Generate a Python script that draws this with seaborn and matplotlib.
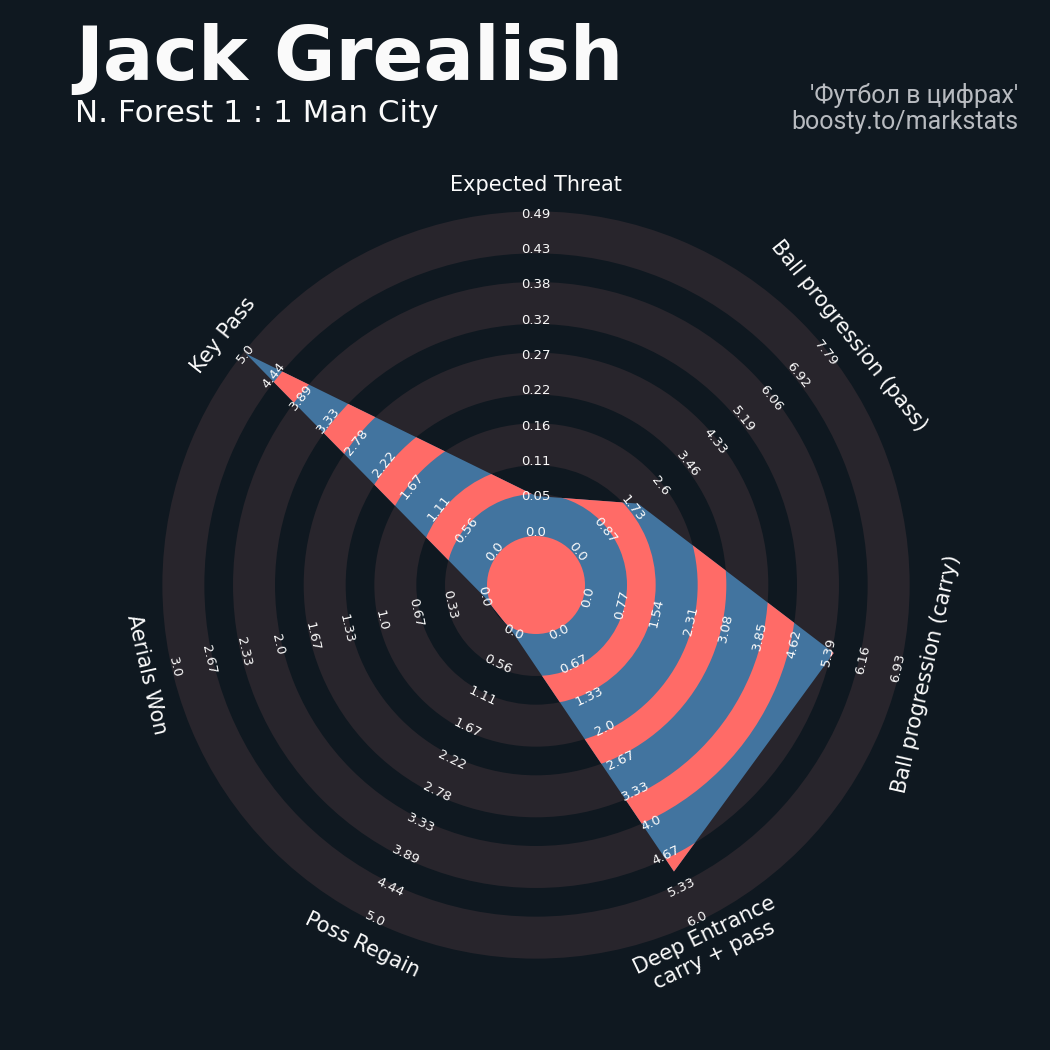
import numpy as np
import matplotlib
matplotlib.use("Agg")
import matplotlib.pyplot as plt
import seaborn as sns
from matplotlib.patches import Polygon, Wedge, Circle
from matplotlib.collections import PatchCollection

# ---- data -------------------------------------------------------------
params = [
    "Expected Threat",
    "Ball progression (pass)",
    "Ball progression (carry)",
    "Deep Entrance\ncarry + pass",
    "Poss Regain",
    "Aerials Won",
    "Key Pass",
]
low = [0, 0, 0, 0, 0, 0, 0]
high = [0.486, 7.79, 6.93, 6.0, 5.0, 3.0, 5.0]
values = [0.055, 1.9, 5.5, 5.0, 0.0, 0.0, 5.0]

title = "Jack Grealish"
subtitle = "N. Forest 1 : 1 Man City"
credit = ["'Футбол в цифрах'", "boosty.to/markstats"]

# ---- style ------------------------------------------------------------
BG = "#0f1820"
RING = "#28252c"
RADAR = "#42749f"
INNER = "#ff6b67"
TEXT = "#fafafa"
CREDIT = "#b8bbc0"

sns.set_theme(style="dark", rc={"figure.facecolor": BG, "axes.facecolor": BG,
                                "text.color": TEXT})
plt.rcParams["font.family"] = ["DejaVu Sans"]

# ---- radar geometry (axis units = pixels around the centre) -------------
N_STEPS = 9
R0 = 53.0          # radius of the minimum value
STEP = 35.33       # radius per label step
RMAX = R0 + N_STEPS * STEP
CENTER_R = 49.0    # centre disc
BAND_W = 42.0      # width of the shaded rings
PERIOD = 2 * STEP
LABEL_R = 400.0

n = len(params)
theta = np.deg2rad(90 - np.arange(n) * 360 / n)

fig = plt.figure(figsize=(10.5, 10.5), dpi=100)
ax = fig.add_axes([0, 0, 1, 1])
ax.set_xlim(-536, 1050 - 536)
ax.set_ylim(-(1050 - 585), 585)
ax.set_aspect("equal")
ax.axis("off")

# background rings
bands = [Wedge((0, 0), CENTER_R + j * PERIOD + BAND_W, 0, 360, width=BAND_W)
         for j in range(5)]
ax.add_collection(PatchCollection(bands, facecolor=RING, edgecolor="none", zorder=1))

# radar polygon
lo = np.array(low, float)
hi = np.array(high, float)
v = np.array(values, float)
r = R0 + (v - lo) / (hi - lo) * (RMAX - R0)
verts = np.column_stack([r * np.cos(theta), r * np.sin(theta)])
radar = Polygon(verts, closed=True, facecolor=RADAR, edgecolor="none", zorder=2)
ax.add_patch(radar)

# rings inside the radar
inner = [Circle((0, 0), CENTER_R)]
inner += [Wedge((0, 0), CENTER_R + BAND_W + j * PERIOD + (PERIOD - BAND_W), 0, 360,
                width=PERIOD - BAND_W) for j in range(5)]
rings = PatchCollection(inner, facecolor=INNER, edgecolor="none", zorder=3)
ax.add_collection(rings)
rings.set_clip_path(radar)


def label_rotation(t):
    rot = (np.rad2deg(t) - 90 + 180) % 360 - 180
    if rot > 90:
        rot -= 180
    elif rot < -90:
        rot += 180
    return rot


# range labels and parameter names
for k in range(n):
    t = theta[k]
    rot = label_rotation(t)
    ticks = np.linspace(lo[k], hi[k], N_STEPS + 1)
    for i, tv in enumerate(ticks):
        rr = R0 + i * STEP
        ax.text(rr * np.cos(t), rr * np.sin(t), f"{float(round(tv, 2))}",
                rotation=rot, rotation_mode="anchor", ha="center", va="center",
                fontsize=9.5, color=TEXT, zorder=5)
    ax.text(LABEL_R * np.cos(t), LABEL_R * np.sin(t), params[k],
            rotation=rot, rotation_mode="anchor", ha="center", va="center",
            fontsize=15, color=TEXT, zorder=5, linespacing=1.1)

# headings
fig.text(75 / 1050, 1 - 80 / 1050, title, fontsize=54, fontweight="bold",
         color=TEXT, ha="left", va="baseline")
fig.text(75 / 1050, 1 - 122 / 1050, subtitle, fontsize=22.3,
         color=TEXT, ha="left", va="baseline")
fig.text(1018 / 1050, 1 - 103 / 1050, credit[0], fontsize=18, family=["Roboto", "DejaVu Sans"],
         color=CREDIT, ha="right", va="baseline")
fig.text(1018 / 1050, 1 - 129 / 1050, credit[1], fontsize=18, family=["Roboto", "DejaVu Sans"],
         color=CREDIT, ha="right", va="baseline")

fig.savefig("out.png", dpi=100, facecolor=BG)
